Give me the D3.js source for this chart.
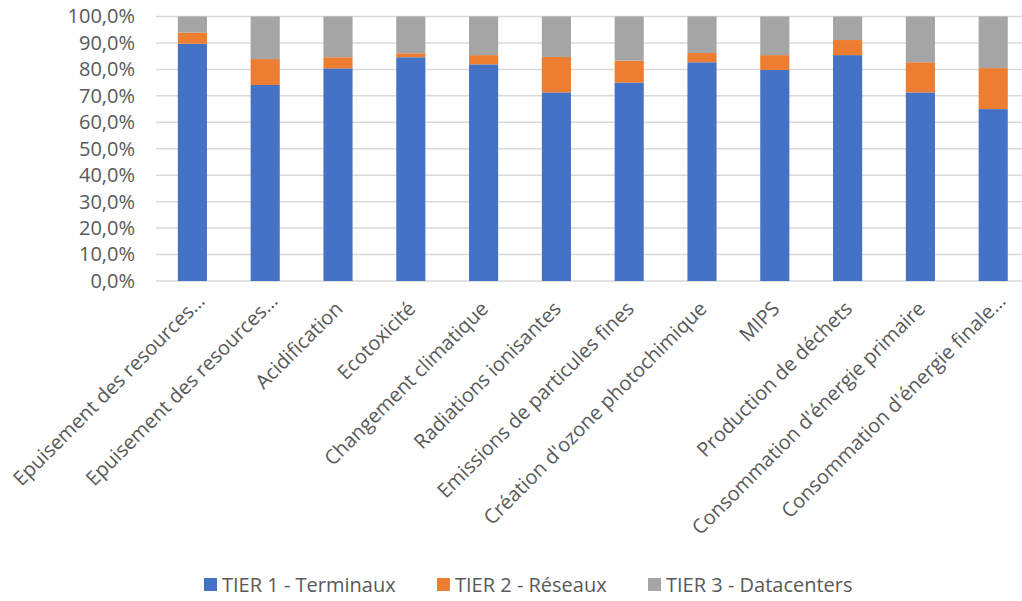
<!DOCTYPE html>
<html>
<head>
<meta charset="utf-8">
<script src="https://cdn.jsdelivr.net/npm/d3@7"></script>
<style>
  body { margin: 0; background: #fff; }
  svg { display: block; font-family: "Open Sans", "Noto Sans", sans-serif; }
  .tick text { fill: #595959; }
</style>
</head>
<body>
<div id="chart"></div>
<script>
// categories and series (share of total, %)
const categories = [
  "Epuisement des resources…",
  "Epuisement des resources…",
  "Acidification",
  "Ecotoxicité",
  "Changement climatique",
  "Radiations ionisantes",
  "Emissions de particules fines",
  "Création d'ozone photochimique",
  "MIPS",
  "Production de déchets",
  "Consommation d'énergie primaire",
  "Consommation d'énergie finale…"
];
const tier1 = [89.7, 74.1, 80.4, 84.6, 81.9, 71.3, 75.0, 82.7, 79.8, 85.4, 71.3, 65.0];
const tier2 = [4.2, 9.8, 4.2, 1.5, 3.5, 13.4, 8.3, 3.5, 5.6, 5.7, 11.4, 15.5];
const tier3 = [6.1, 16.1, 15.4, 13.9, 14.6, 15.3, 16.7, 13.8, 14.6, 8.9, 17.3, 19.5];
const seriesNames = ["TIER 1 - Terminaux", "TIER 2 - Réseaux", "TIER 3 - Datacenters"];
const yTicks = [0, 10, 20, 30, 40, 50, 60, 70, 80, 90, 100];

const colors = ["#4472C4", "#ED7D31", "#A5A5A5"];

let width = 1022, height = 601;
let plotLeft = 156, plotTop = 16.5, plotBottom = 281;
let fontSize = 20;

let svg = d3.select("#chart").append("svg")
    .attr("width", width)
    .attr("height", height);

let xScale = d3.scaleBand()
    .domain(d3.range(categories.length))
    .range([plotLeft, plotLeft + 72.8 * categories.length])
    .paddingInner(0.6)
    .paddingOuter(0.3);

let yScale = d3.scaleLinear().domain([0, 100]).range([plotBottom, plotTop]);

// gridlines
svg.append("g")
    .selectAll("line")
    .data(yTicks)
  .join("line")
    .attr("x1", plotLeft)
    .attr("x2", width)
    .attr("y1", d => yScale(d))
    .attr("y2", d => yScale(d))
    .attr("stroke", "#d9d9d9")
    .attr("stroke-width", 1.5);

// y axis labels
let yAxis = svg.append("g")
    .attr("transform", "translate(" + (plotLeft - 21) + ",0)")
    .call(d3.axisLeft(yScale)
        .tickValues(yTicks)
        .tickSize(0)
        .tickPadding(0)
        .tickFormat(d => d.toFixed(1).replace(".", ",") + "%"));
yAxis.select(".domain").remove();
yAxis.selectAll("text")
    .attr("font-size", fontSize)
    .attr("font-family", "'Open Sans', sans-serif");

// stacked bars
let rows = categories.map((c, i) => ({i: i, t1: tier1[i], t2: tier2[i], t3: tier3[i]}));
let stack = d3.stack().keys(["t1", "t2", "t3"])(rows);

svg.append("g")
    .selectAll("g")
    .data(stack)
  .join("g")
    .attr("fill", (d, k) => colors[k])
  .selectAll("rect")
    .data(d => d)
  .join("rect")
    .attr("x", d => xScale(d.data.i))
    .attr("width", xScale.bandwidth())
    .attr("y", d => yScale(d[1]))
    .attr("height", d => yScale(d[0]) - yScale(d[1]));

// x axis labels, rotated (truncated ones sit a little further out, like excel)
svg.append("g")
    .selectAll("text")
    .data(categories)
  .join("text")
    .attr("transform", (d, i) => "translate(" + (xScale(i) + xScale.bandwidth() / 2 + 1) + "," + 305 + ") rotate(-45)")
    .attr("text-anchor", "end")
    .attr("dx", d => d.endsWith("…") ? 11 : 0)
    .attr("dy", "0.35em")
    .attr("font-size", fontSize)
    .attr("fill", "#595959")
    .text(d => d);

// legend
let legendX = [204, 437, 648];
let legend = svg.append("g")
    .selectAll("g")
    .data(seriesNames)
  .join("g")
    .attr("transform", (d, k) => "translate(" + legendX[k] + ",578)");
legend.append("rect")
    .attr("width", 13)
    .attr("height", 13)
    .attr("fill", (d, k) => colors[k]);
legend.append("text")
    .attr("x", 18)
    .attr("y", 6.5)
    .attr("dy", "0.35em")
    .attr("font-size", fontSize)
    .attr("fill", "#595959")
    .text(d => d);
</script>
</body>
</html>
